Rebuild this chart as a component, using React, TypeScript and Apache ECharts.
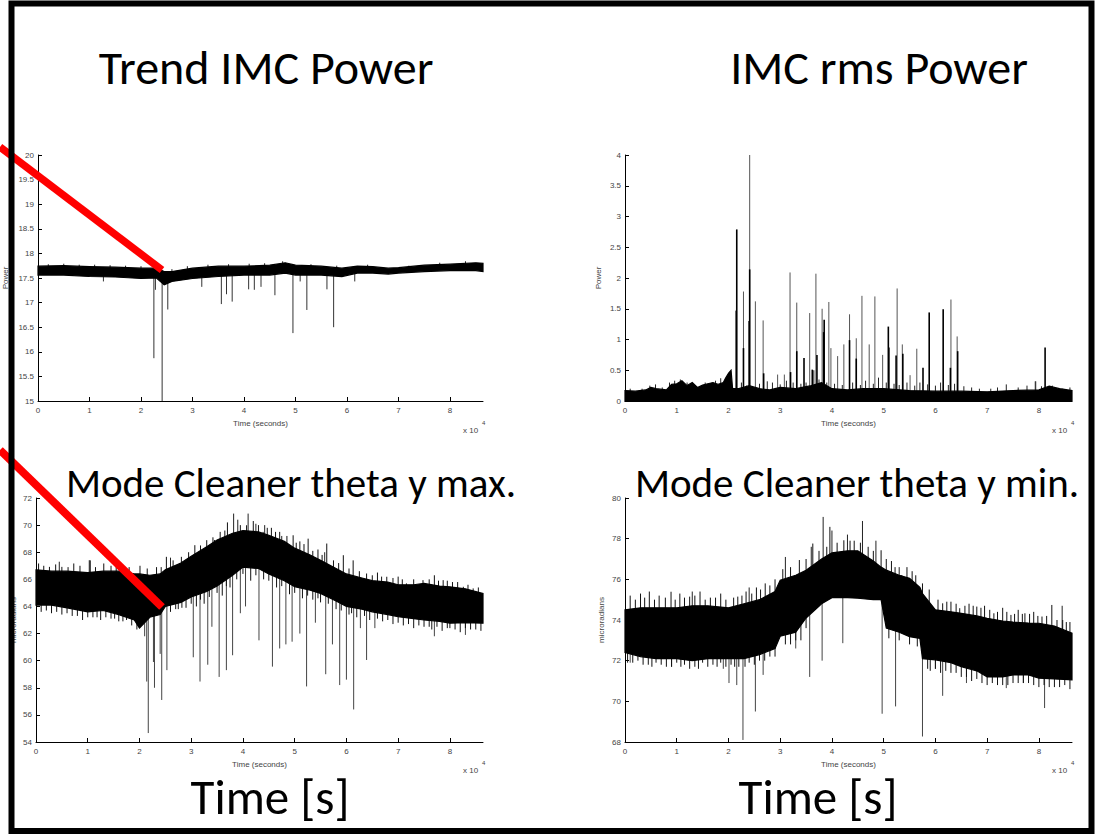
import { useEffect, useRef } from "react";
import * as echarts from "echarts";

// Time values are in units of 10^4 seconds (axes show "x 10^4")
const xTickValues = [0, 1, 2, 3, 4, 5, 6, 7, 8];
const X_MAX = 8.64;

// ---------- Trend IMC Power ----------
const trendBandT = [0, 0.5, 1.0, 1.5, 2.0, 2.3, 2.45, 2.6, 3.0, 3.5, 4.0, 4.5, 4.8, 5.0, 5.5, 5.9, 6.2, 6.5, 6.8, 7.0, 7.5, 8.0, 8.5, 8.64];
const trendBandHigh = [17.74, 17.75, 17.73, 17.72, 17.7, 17.7, 17.63, 17.63, 17.7, 17.74, 17.74, 17.76, 17.81, 17.76, 17.74, 17.7, 17.74, 17.73, 17.7, 17.71, 17.76, 17.78, 17.81, 17.8];
const trendBandLow = [17.56, 17.56, 17.53, 17.52, 17.49, 17.5, 17.36, 17.43, 17.49, 17.53, 17.56, 17.56, 17.6, 17.56, 17.56, 17.53, 17.6, 17.6, 17.58, 17.6, 17.63, 17.65, 17.65, 17.63];
const trendSpikeT = [1.27, 2.25, 2.28, 2.41, 2.52, 3.18, 3.56, 3.66, 3.77, 4.09, 4.2, 4.33, 4.6, 4.95, 5.09, 5.22, 5.61, 5.74, 6.15];
const trendSpikeMin = [17.43, 15.87, 17.26, 15.0, 16.86, 17.32, 16.97, 17.17, 17.02, 17.27, 17.26, 17.32, 17.15, 16.38, 17.43, 16.85, 17.27, 16.5, 17.43];
const trendHairT = [0.2, 0.5, 0.8, 1.1, 1.4, 1.7, 2.0, 2.6, 2.9, 3.3, 3.7, 4.1, 4.4, 4.75, 5.3, 5.8, 6.4, 7.2, 7.8, 8.3];
const trendHairTip = [17.78, 17.79, 17.77, 17.77, 17.76, 17.75, 17.74, 17.68, 17.74, 17.77, 17.78, 17.79, 17.8, 17.84, 17.78, 17.75, 17.77, 17.75, 17.81, 17.84];

// ---------- IMC rms Power ----------
const rmsBandT = [0, 0.2, 0.4, 0.5, 0.6, 0.8, 0.9, 1.0, 1.1, 1.2, 1.3, 1.4, 1.5, 1.6, 1.7, 1.8, 1.9, 1.95, 2.0, 2.05, 2.08, 2.2, 2.4, 2.6, 2.8, 3.0, 3.3, 3.6, 3.8, 4.0, 4.3, 4.6, 5.0, 5.5, 6.0, 6.5, 7.0, 7.5, 8.0, 8.2, 8.4, 8.64];
const rmsBandHigh = [0.17, 0.16, 0.18, 0.22, 0.2, 0.18, 0.27, 0.28, 0.33, 0.25, 0.3, 0.22, 0.26, 0.28, 0.3, 0.27, 0.3, 0.38, 0.45, 0.5, 0.2, 0.2, 0.25, 0.2, 0.18, 0.22, 0.2, 0.25, 0.3, 0.2, 0.18, 0.2, 0.2, 0.17, 0.16, 0.16, 0.15, 0.17, 0.18, 0.24, 0.2, 0.17];
const rmsSpikeT = [2.29, 2.41, 2.52, 2.67, 2.95, 3.08, 3.19, 3.32, 3.57, 3.69, 3.81, 3.94, 3.98, 4.11, 4.23, 4.34, 4.47, 4.58, 4.72, 4.83, 4.98, 5.26, 5.36, 5.51, 5.64, 6.3, 6.42, 7.94];
const rmsSpikeMax = [1.78, 4.0, 1.62, 1.31, 0.43, 0.43, 2.09, 1.6, 1.43, 2.07, 1.5, 1.61, 0.86, 0.73, 0.92, 1.41, 1.02, 1.71, 0.92, 1.7, 0.75, 1.83, 0.92, 0.42, 0.85, 1.65, 1.05, 0.32];
const rmsDarkSpikeT = [2.15, 2.16, 2.29, 2.4, 2.41, 2.68, 3.2, 3.32, 3.46, 3.62, 3.71, 3.84, 3.85, 4.34, 4.47, 5.09, 5.1, 5.24, 5.37, 5.76, 5.88, 6.15, 6.29, 6.43, 8.12];
const rmsDarkSpikeMax = [1.47, 2.79, 0.86, 1.3, 2.14, 0.45, 0.47, 0.81, 0.7, 0.51, 0.75, 1.12, 1.32, 0.99, 0.69, 1.21, 0.87, 0.74, 0.77, 0.54, 1.44, 1.49, 0.54, 0.81, 0.87];
const rmsHairT = [0.1, 0.33, 0.48, 0.59, 0.72, 0.86, 0.96, 1.07, 1.2, 1.35, 1.55, 1.65, 1.75, 1.85, 2.25, 2.35, 2.6, 2.75, 2.85, 3.0, 3.12, 3.25, 3.4, 3.5, 3.65, 3.75, 3.9, 4.05, 4.2, 4.4, 4.55, 4.65, 4.8, 4.9, 5.05, 5.2, 5.3, 5.45, 5.6, 5.7, 5.85, 6.0, 6.1, 6.25, 6.37, 6.55, 6.7, 6.85, 7.07, 7.2, 7.37, 7.6, 7.77, 7.93, 8.05, 8.26, 8.46, 8.6];
const rmsHairMax = [0.2, 0.2, 0.25, 0.27, 0.22, 0.3, 0.33, 0.35, 0.3, 0.22, 0.3, 0.28, 0.33, 0.37, 0.3, 0.25, 0.28, 0.32, 0.3, 0.27, 0.33, 0.3, 0.28, 0.3, 0.5, 0.35, 0.3, 0.28, 0.26, 0.3, 0.26, 0.33, 0.28, 0.38, 0.3, 0.28, 0.26, 0.3, 0.25, 0.3, 0.27, 0.25, 0.3, 0.26, 0.28, 0.24, 0.22, 0.2, 0.2, 0.22, 0.27, 0.22, 0.25, 0.32, 0.24, 0.25, 0.2, 0.22];

// ---------- Mode Cleaner theta y max. ----------
const maxBandT = [0, 0.3, 0.6, 1.0, 1.3, 1.6, 1.9, 2.0, 2.2, 2.4, 2.5, 2.8, 3.0, 3.3, 3.5, 3.8, 4.0, 4.3, 4.5, 4.8, 5.0, 5.3, 5.5, 5.8, 6.0, 6.3, 6.5, 6.8, 7.0, 7.3, 7.5, 7.8, 8.0, 8.3, 8.64];
const maxBandHigh = [66.7, 66.6, 66.6, 66.5, 66.6, 66.6, 66.4, 66.4, 66.3, 66.4, 66.7, 67.2, 67.7, 68.4, 68.9, 69.4, 69.6, 69.5, 69.25, 68.8, 68.3, 67.8, 67.4, 66.8, 66.4, 66.1, 65.9, 65.8, 65.6, 65.6, 65.7, 65.5, 65.45, 65.3, 64.96];
const maxBandLow = [64.1, 64.1, 63.9, 63.6, 63.7, 63.4, 63.0, 62.4, 63.2, 63.4, 64.0, 64.3, 64.7, 65.1, 65.5, 66.3, 66.9, 66.8, 66.4, 65.9, 65.45, 65.2, 64.96, 64.4, 64.0, 63.8, 63.6, 63.4, 63.24, 63.1, 63.0, 62.9, 62.76, 62.8, 62.76];
const maxSpikeT = [2.1, 2.14, 2.17, 2.27, 2.29, 2.4, 2.43, 2.53, 3.04, 3.17, 3.32, 3.4, 3.54, 3.68, 3.8, 3.95, 4.05, 4.31, 4.57, 4.71, 4.83, 4.95, 5.1, 5.23, 5.4, 5.6, 5.73, 5.87, 6.0, 6.14, 6.27, 6.39, 6.55, 7.7, 8.3];
const maxSpikeMin = [61.8, 58.46, 54.66, 59.9, 58.0, 60.5, 57.1, 59.3, 60.25, 58.46, 59.7, 62.5, 58.8, 59.3, 60.4, 63.5, 64.0, 61.5, 59.56, 60.9, 61.2, 61.4, 62.0, 58.1, 62.8, 59.0, 61.2, 58.2, 58.6, 56.4, 62.4, 60.05, 62.4, 61.8, 61.9];
const maxUpT = [0.45, 1.05, 2.6, 3.45, 3.82, 3.9, 4.1, 4.25, 4.42, 4.75, 5.58];
const maxUpMax = [67.3, 67.4, 67.6, 68.9, 70.85, 70.4, 70.85, 70.1, 70.0, 69.2, 68.0];
const maxHairHiT = [0.05, 0.15, 0.26, 0.38, 0.5, 0.62, 0.73, 0.85, 1.03, 1.15, 1.31, 1.45, 1.55, 1.66, 1.8, 2.01, 2.15, 2.33, 2.42, 2.52, 2.65, 2.81, 2.95, 3.07, 3.18, 3.3, 3.42, 3.56, 3.65, 3.7, 3.95, 4.07, 4.2, 4.3, 4.39, 4.47, 4.55, 4.63, 4.71, 4.85, 4.97, 5.03, 5.1, 5.18, 5.26, 5.35, 5.45, 5.53, 5.62, 5.75, 5.85, 5.94, 6.05, 6.13, 6.25, 6.39, 6.5, 6.6, 6.68, 6.78, 6.9, 7.0, 7.08, 7.16, 7.3, 7.48, 7.6, 7.7, 7.78, 7.87, 7.95, 8.05, 8.15, 8.26, 8.35, 8.45, 8.55];
const maxHairHi = [67.17, 67.0, 66.92, 67.1, 66.92, 66.9, 67.17, 67.0, 67.41, 66.9, 67.17, 67.0, 67.2, 66.92, 66.9, 67.0, 66.8, 66.9, 66.9, 67.66, 67.4, 67.66, 68.0, 68.52, 68.5, 68.89, 69.1, 69.5, 69.6, 70.2, 70.0, 69.99, 70.3, 70.0, 69.5, 69.8, 69.8, 69.5, 69.5, 69.2, 69.25, 68.7, 68.8, 68.6, 69.0, 68.1, 68.2, 67.8, 68.64, 67.4, 67.2, 67.78, 66.8, 67.4, 66.6, 66.43, 66.3, 66.5, 66.2, 66.19, 66.1, 66.2, 66.0, 65.7, 66.0, 65.94, 66.0, 66.3, 65.9, 65.94, 65.9, 65.8, 65.8, 65.45, 65.6, 65.33, 65.4];
const maxHairLoT = [0.1, 0.2, 0.3, 0.4, 0.5, 0.6, 0.7, 0.8, 0.9, 1.0, 1.1, 1.18, 1.25, 1.35, 1.45, 1.52, 1.6, 1.68, 1.75, 1.85, 1.95, 2.6, 2.7, 2.75, 2.82, 2.9, 3.0, 3.1, 3.18, 3.25, 3.35, 3.5, 3.6, 3.68, 3.75, 3.88, 4.0, 4.15, 4.25, 4.4, 4.5, 4.65, 4.75, 4.9, 5.0, 5.15, 5.25, 5.35, 5.45, 5.5, 5.65, 5.8, 5.9, 6.05, 6.1, 6.2, 6.35, 6.45, 6.6, 6.7, 6.8, 6.9, 7.0, 7.1, 7.2, 7.3, 7.4, 7.5, 7.6, 7.65, 7.75, 7.85, 7.95, 8.0, 8.1, 8.2, 8.3, 8.4, 8.5, 8.6];
const maxHairLo = [63.6, 63.7, 63.5, 63.6, 63.4, 63.5, 63.3, 63.3, 63.0, 63.2, 63.2, 63.2, 63.0, 63.2, 63.1, 63.1, 62.9, 62.9, 63.0, 62.6, 62.3, 63.6, 63.8, 63.8, 63.9, 63.9, 64.2, 64.0, 64.5, 64.2, 64.7, 65.0, 64.8, 65.5, 65.4, 66.0, 66.4, 65.9, 66.3, 66.0, 65.9, 65.4, 65.5, 64.9, 65.0, 64.6, 64.8, 64.5, 64.6, 64.3, 64.2, 63.8, 63.7, 63.4, 63.5, 63.2, 63.3, 63.0, 63.1, 62.9, 63.0, 62.7, 62.8, 62.6, 62.7, 62.4, 62.6, 62.5, 62.5, 62.3, 62.5, 62.2, 62.4, 62.4, 62.3, 62.1, 62.4, 62.3, 62.3, 62.2];

// ---------- Mode Cleaner theta y min. ----------
const minBandT = [0, 0.3, 0.6, 1.0, 1.3, 1.6, 2.0, 2.3, 2.6, 2.9, 3.0, 3.3, 3.5, 3.8, 4.0, 4.3, 4.5, 4.8, 4.95, 5.05, 5.3, 5.5, 5.7, 5.75, 6.0, 6.3, 6.5, 6.8, 7.0, 7.3, 7.5, 7.8, 8.0, 8.3, 8.64];
const minBandHigh = [74.5, 74.6, 74.6, 74.6, 74.7, 74.7, 74.6, 74.8, 75.0, 75.4, 75.96, 76.2, 76.45, 77.0, 77.3, 77.4, 77.4, 76.9, 76.6, 76.45, 76.2, 76.05, 75.6, 75.3, 74.5, 74.4, 74.33, 74.2, 74.08, 73.95, 73.9, 73.85, 73.84, 73.7, 73.35];
const minBandLow = [72.4, 72.2, 72.1, 72.1, 72.0, 72.1, 72.1, 72.1, 72.3, 72.6, 73.2, 73.4, 74.1, 74.8, 75.1, 75.1, 75.07, 75.0, 75.0, 73.6, 73.4, 73.18, 73.1, 72.1, 72.04, 71.9, 71.7, 71.5, 71.2, 71.2, 71.3, 71.3, 71.14, 71.1, 71.06];
const minSpikeT = [0.1, 0.9, 1.9, 2.01, 2.16, 2.28, 2.52, 2.67, 3.3, 3.57, 3.81, 4.21, 4.97, 5.23, 5.75, 6.0, 6.14, 6.6, 7.37, 7.7, 8.11];
const minSpikeMin = [71.9, 71.7, 71.6, 70.9, 70.8, 68.1, 69.5, 71.3, 72.6, 71.2, 72.0, 72.86, 69.39, 69.75, 68.27, 71.6, 70.27, 70.9, 70.65, 70.9, 69.67];
const minUpT = [1.3, 2.4, 3.1, 3.6, 3.83, 4.0, 4.3, 4.59, 4.85, 5.3, 8.45];
const minUpMax = [75.4, 75.6, 77.1, 77.6, 79.07, 78.4, 78.2, 78.87, 77.9, 76.6, 74.7];
const minHairHiT = [0.1, 0.2, 0.3, 0.38, 0.47, 0.57, 0.66, 0.78, 0.89, 0.97, 1.06, 1.15, 1.25, 1.35, 1.45, 1.55, 1.65, 1.75, 1.85, 1.95, 2.1, 2.18, 2.26, 2.34, 2.45, 2.54, 2.62, 2.71, 2.8, 2.9, 3.05, 3.2, 3.37, 3.5, 3.63, 3.75, 3.9, 3.96, 4.1, 4.23, 4.35, 4.43, 4.55, 4.7, 4.8, 4.95, 5.05, 5.15, 5.22, 5.35, 5.45, 5.55, 5.62, 5.75, 5.88, 6.05, 6.14, 6.22, 6.3, 6.4, 6.47, 6.57, 6.65, 6.73, 6.8, 6.88, 6.95, 7.05, 7.13, 7.2, 7.3, 7.38, 7.46, 7.53, 7.6, 7.68, 7.73, 7.82, 7.9, 7.98, 8.06, 8.15, 8.25, 8.35, 8.46, 8.53, 8.6];
const minHairHi = [75.2, 75.0, 75.3, 75.1, 75.4, 75.0, 75.2, 75.1, 75.39, 75.0, 75.3, 75.1, 75.15, 75.2, 75.4, 75.0, 75.1, 75.1, 75.3, 75.0, 75.1, 75.15, 75.2, 75.4, 75.3, 75.6, 75.5, 75.8, 75.7, 76.0, 76.5, 76.6, 76.95, 77.0, 77.76, 77.4, 77.6, 78.58, 77.8, 77.92, 77.9, 77.9, 77.8, 77.6, 77.4, 77.43, 77.0, 76.9, 76.6, 76.21, 76.6, 76.4, 76.2, 75.8, 75.5, 75.0, 74.82, 74.9, 74.9, 74.8, 74.58, 74.7, 74.8, 74.7, 74.66, 74.6, 74.7, 74.5, 74.33, 74.4, 74.6, 74.4, 74.25, 74.3, 74.5, 74.3, 74.33, 74.3, 74.4, 74.2, 74.17, 74.2, 74.74, 74.0, 74.0, 73.9, 73.9];
const minHairLoT = [0.05, 0.15, 0.25, 0.35, 0.45, 0.52, 0.6, 0.7, 0.8, 0.9, 1.0, 1.08, 1.15, 1.25, 1.35, 1.42, 1.5, 1.6, 1.7, 1.78, 1.85, 1.95, 2.05, 2.12, 2.2, 2.32, 2.4, 2.5, 2.6, 2.7, 2.8, 2.9, 3.1, 3.2, 3.3, 3.4, 3.5, 5.1, 5.3, 5.5, 5.65, 5.85, 5.9, 6.0, 6.1, 6.2, 6.3, 6.4, 6.5, 6.6, 6.7, 6.8, 6.9, 7.0, 7.1, 7.2, 7.3, 7.4, 7.5, 7.6, 7.7, 7.8, 7.9, 8.0, 8.1, 8.2, 8.3, 8.4, 8.5, 8.6];
const minHairLo = [71.9, 71.9, 72.0, 71.8, 71.8, 71.7, 71.9, 71.8, 71.7, 71.7, 71.9, 71.7, 71.8, 71.6, 71.7, 71.6, 71.9, 71.7, 71.8, 71.7, 71.9, 71.7, 71.8, 71.7, 71.7, 71.7, 71.9, 71.8, 72.0, 72.0, 72.2, 72.2, 72.8, 72.8, 73.0, 73.0, 73.6, 73.1, 73.0, 72.8, 72.7, 71.6, 71.5, 71.6, 71.4, 71.5, 71.4, 71.4, 71.2, 71.2, 71.0, 71.1, 70.9, 70.8, 70.9, 70.8, 70.8, 70.8, 70.9, 70.9, 70.9, 70.9, 70.8, 70.7, 70.8, 70.7, 70.7, 70.7, 70.8, 70.6];

const AXIS_FONT = "'Liberation Sans', Arial, sans-serif";
const SLIDE_FONT = "Carlito, Calibri, Lato, sans-serif";

function bandMid(T: number[], hi: number[], lo: number[] | null, t: number): number {
  const low = (k: number) => (lo ? lo[k] : 0);
  for (let k = 0; k < T.length - 1; k++) {
    if (t >= T[k] && t <= T[k + 1]) {
      const f = (t - T[k]) / (T[k + 1] - T[k] || 1);
      const h = hi[k] + (hi[k + 1] - hi[k]) * f;
      const l = low(k) + (low(k + 1) - low(k)) * f;
      return (h + l) / 2;
    }
  }
  return (hi[hi.length - 1] + low(hi.length - 1)) / 2;
}

function bandSeries(idx: number, T: number[], hi: number[], lo: number[] | null) {
  return {
    type: "custom",
    xAxisIndex: idx,
    yAxisIndex: idx,
    silent: true,
    data: [[T[0], hi[0]]],
    renderItem: (_params: any, api: any) => {
      const pts: number[][] = [];
      for (let k = 0; k < T.length; k++) pts.push(api.coord([T[k], hi[k]]));
      for (let k = T.length - 1; k >= 0; k--) pts.push(api.coord([T[k], lo ? lo[k] : 0]));
      return {
        type: "polygon",
        shape: { points: pts },
        style: { fill: "#000", stroke: "#000", lineWidth: 1.2 },
      };
    },
  };
}

function spikeSeries(idx: number, rows: number[][], color: string, width: number) {
  return {
    type: "custom",
    xAxisIndex: idx,
    yAxisIndex: idx,
    silent: true,
    encode: { x: 0, y: [1, 2] },
    data: rows,
    renderItem: (_params: any, api: any) => {
      const a = api.coord([api.value(0), api.value(1)]);
      const b = api.coord([api.value(0), api.value(2)]);
      return {
        type: "line",
        shape: { x1: a[0], y1: a[1], x2: b[0], y2: b[1] },
        style: { stroke: color, lineWidth: width },
      };
    },
  };
}

const panels = [
  { grid: { left: 36, top: 155, width: 447, height: 246 }, yMin: 15, yMax: 20, yInt: 0.5, yName: "Power", nameGap: 29 },
  { grid: { left: 625, top: 155, width: 447, height: 246 }, yMin: 0, yMax: 4, yInt: 0.5, yName: "Power", nameGap: 23 },
  { grid: { left: 36, top: 498, width: 447, height: 244 }, yMin: 54, yMax: 72, yInt: 2, yName: "microradians", nameGap: 19 },
  { grid: { left: 625, top: 498, width: 447, height: 244 }, yMin: 68, yMax: 80, yInt: 2, yName: "microradians", nameGap: 20 },
];

export default function App() {
  const ref = useRef<HTMLDivElement>(null);
  useEffect(() => {
    if (!ref.current) return;
    const chart = echarts.init(ref.current, undefined, { renderer: "svg" });

    const grids = panels.map((p) => ({ ...p.grid, containLabel: false }));
    const xAxes = panels.map((_p, i) => ({
      gridIndex: i,
      type: "value",
      min: 0,
      max: X_MAX,
      interval: 1,
      axisLine: { show: true, onZero: false, lineStyle: { color: "#000", width: 1 } },
      axisTick: { show: true, inside: true, length: 4, customValues: xTickValues, lineStyle: { color: "#000" } },
      axisLabel: { customValues: xTickValues, fontSize: 8, color: "#444", margin: 5, fontFamily: AXIS_FONT },
      splitLine: { show: false },
      name: "Time (seconds)",
      nameLocation: "middle",
      nameGap: 18,
      nameTextStyle: { fontSize: 8, color: "#444", fontFamily: AXIS_FONT },
    }));
    const yAxes = panels.map((p, i) => ({
      gridIndex: i,
      type: "value",
      min: p.yMin,
      max: p.yMax,
      interval: p.yInt,
      axisLine: { show: true, onZero: false, lineStyle: { color: "#000", width: 1 } },
      axisTick: { show: true, inside: true, length: 4, lineStyle: { color: "#000" } },
      axisLabel: { fontSize: 8, color: "#444", margin: 4, fontFamily: AXIS_FONT },
      splitLine: { show: false },
      name: p.yName,
      nameLocation: "middle",
      nameRotate: 90,
      nameGap: p.nameGap,
      nameTextStyle: { fontSize: 8, color: "#444", fontFamily: AXIS_FONT },
    }));

    const rows = (T: number[], tips: number[], from: (t: number) => number) => T.map((t, k) => [t, from(t), tips[k]]);
    const trendFrom = (t: number) => bandMid(trendBandT, trendBandHigh, trendBandLow, t);
    const maxFrom = (t: number) => bandMid(maxBandT, maxBandHigh, maxBandLow, t);
    const minFrom = (t: number) => bandMid(minBandT, minBandHigh, minBandLow, t);
    const rmsFrom = () => 0.05;

    const series = [
      spikeSeries(0, rows(trendSpikeT, trendSpikeMin, trendFrom), "#333", 1),
      spikeSeries(0, rows(trendHairT, trendHairTip, trendFrom), "#222", 1),
      bandSeries(0, trendBandT, trendBandHigh, trendBandLow),
      spikeSeries(1, rows(rmsSpikeT, rmsSpikeMax, rmsFrom), "#555", 1),
      spikeSeries(1, rows(rmsDarkSpikeT, rmsDarkSpikeMax, rmsFrom), "#000", 1.6),
      spikeSeries(1, rows(rmsHairT, rmsHairMax, rmsFrom), "#222", 1),
      bandSeries(1, rmsBandT, rmsBandHigh, null),
      spikeSeries(2, rows(maxSpikeT, maxSpikeMin, maxFrom), "#444", 1),
      spikeSeries(2, rows(maxUpT, maxUpMax, maxFrom), "#222", 1),
      spikeSeries(2, rows(maxHairHiT, maxHairHi, maxFrom), "#111", 1),
      spikeSeries(2, rows(maxHairLoT, maxHairLo, maxFrom), "#111", 1),
      bandSeries(2, maxBandT, maxBandHigh, maxBandLow),
      spikeSeries(3, rows(minSpikeT, minSpikeMin, minFrom), "#444", 1),
      spikeSeries(3, rows(minUpT, minUpMax, minFrom), "#222", 1),
      spikeSeries(3, rows(minHairHiT, minHairHi, minFrom), "#111", 1),
      spikeSeries(3, rows(minHairLoT, minHairLo, minFrom), "#111", 1),
      bandSeries(3, minBandT, minBandHigh, minBandLow),
    ];

    const bigText = (text: string, x: number, y: number, size: number) => ({
      type: "text",
      x,
      y,
      z: 100,
      style: { text, fill: "#000", font: `${size}px ${SLIDE_FONT}`, align: "center", verticalAlign: "middle" },
    });
    const smallText = (text: string, x: number, y: number, size: number) => ({
      type: "text",
      x,
      y,
      z: 100,
      style: { text, fill: "#444", font: `${size}px ${AXIS_FONT}`, align: "left", verticalAlign: "middle" },
    });

    chart.setOption({
      animation: false,
      backgroundColor: "#fff",
      grid: grids,
      xAxis: xAxes,
      yAxis: yAxes,
      series,
      graphic: [
        smallText("x 10", 463, 430, 8),
        smallText("4", 482, 423, 6),
        smallText("x 10", 1052, 430, 8),
        smallText("4", 1071, 423, 6),
        smallText("x 10", 463, 770, 8),
        smallText("4", 482, 763, 6),
        smallText("x 10", 1052, 770, 8),
        smallText("4", 1071, 763, 6),
        bigText("Trend IMC Power", 266, 67, 48),
        bigText("IMC rms Power", 879, 67, 48),
        bigText("Mode Cleaner theta y max.", 291, 483, 41),
        bigText("Mode Cleaner theta y min.", 857, 483, 41),
        bigText("Time [s]", 270, 797, 49),
        bigText("Time [s]", 818, 797, 49),
        { type: "line", z: 100, shape: { x1: 0, y1: 147, x2: 162, y2: 270 }, style: { stroke: "#ff0000", lineWidth: 7.5 } },
        { type: "line", z: 100, shape: { x1: 0, y1: 450, x2: 162, y2: 607 }, style: { stroke: "#ff0000", lineWidth: 8 } },
        { type: "rect", z: 101, shape: { x: 11.5, y: 3.5, width: 1080, height: 827.5 }, style: { fill: "none", stroke: "#000", lineWidth: 6 } },
      ],
    });
    return () => chart.dispose();
  }, []);
  return <div ref={ref} style={{ position: "fixed", left: 0, top: 0, width: 1096, height: 839 }} />;
}
